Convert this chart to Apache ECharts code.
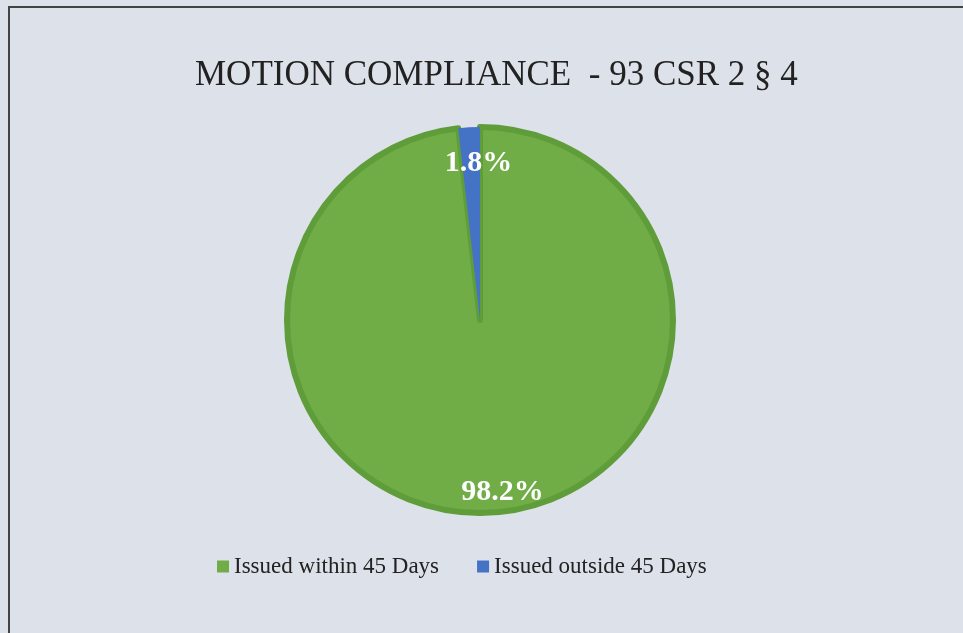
<!DOCTYPE html>
<html><head><meta charset="utf-8">
<script src="https://cdn.jsdelivr.net/npm/echarts@6/dist/echarts.min.js"></script>
<style>html,body{margin:0;padding:0;background:#dde1ea}#c{width:963px;height:633px}</style>
</head><body><div id="c"></div>
<script>
const categories = ['Issued within 45 Days', 'Issued outside 45 Days'];
const values = [98.2, 1.8];
const colors = ['#70ad47', '#4472c4'];
const titleText = 'MOTION COMPLIANCE  - 93 CSR 2 § 4';

const chart = echarts.init(document.getElementById('c'), null, {renderer: 'canvas'});
const labelOffsets = [[13, 3], [8, 12]];
chart.setOption({
  backgroundColor: '#dde1ea',
  animation: false,
  title: {
    text: titleText, left: 190, top: 53,
    textStyle: {fontFamily: 'Liberation Serif', fontWeight: 'normal', fontSize: 35, color: '#222'}
  },
  legend: {
    bottom: 50, left: 212, itemWidth: 12, itemHeight: 12, itemGap: 38,
    icon: 'rect',
    itemStyle: {borderWidth: 0},
    textStyle: {fontFamily: 'Liberation Serif', fontSize: 23, color: '#222'},
    data: categories
  },
  graphic: [{
    type: 'polyline', shape: {points: [[9, 640], [9, 7], [970, 7]]},
    style: {stroke: '#444', lineWidth: 2, fill: null}, silent: true
  }],
  series: [{
    type: 'pie', center: [480, 320], radius: 193, startAngle: 90, clockwise: true,
    label: {show: false}, labelLine: {show: false},
    data: categories.map((n, i) => ({name: n, value: values[i],
      itemStyle: {color: colors[i], borderColor: i === 0 ? '#5f9d3a' : colors[i], borderWidth: i === 0 ? 6 : 0}}))
  }, {
    type: 'pie', center: [480, 320], radius: [140, 193], startAngle: 90, clockwise: true,
    silent: true, legendHoverLink: false,
    itemStyle: {color: 'rgba(0,0,0,0)'},
    label: {show: true, position: 'inside', formatter: p => p.value.toFixed(1) + '%',
      fontFamily: 'Liberation Serif', fontWeight: 'bold', fontSize: 30, color: '#fff'},
    labelLine: {show: false},
    data: categories.map((n, i) => ({name: n + ' ', value: values[i], label: {offset: labelOffsets[i]}}))
  }]
});
</script></body></html>
